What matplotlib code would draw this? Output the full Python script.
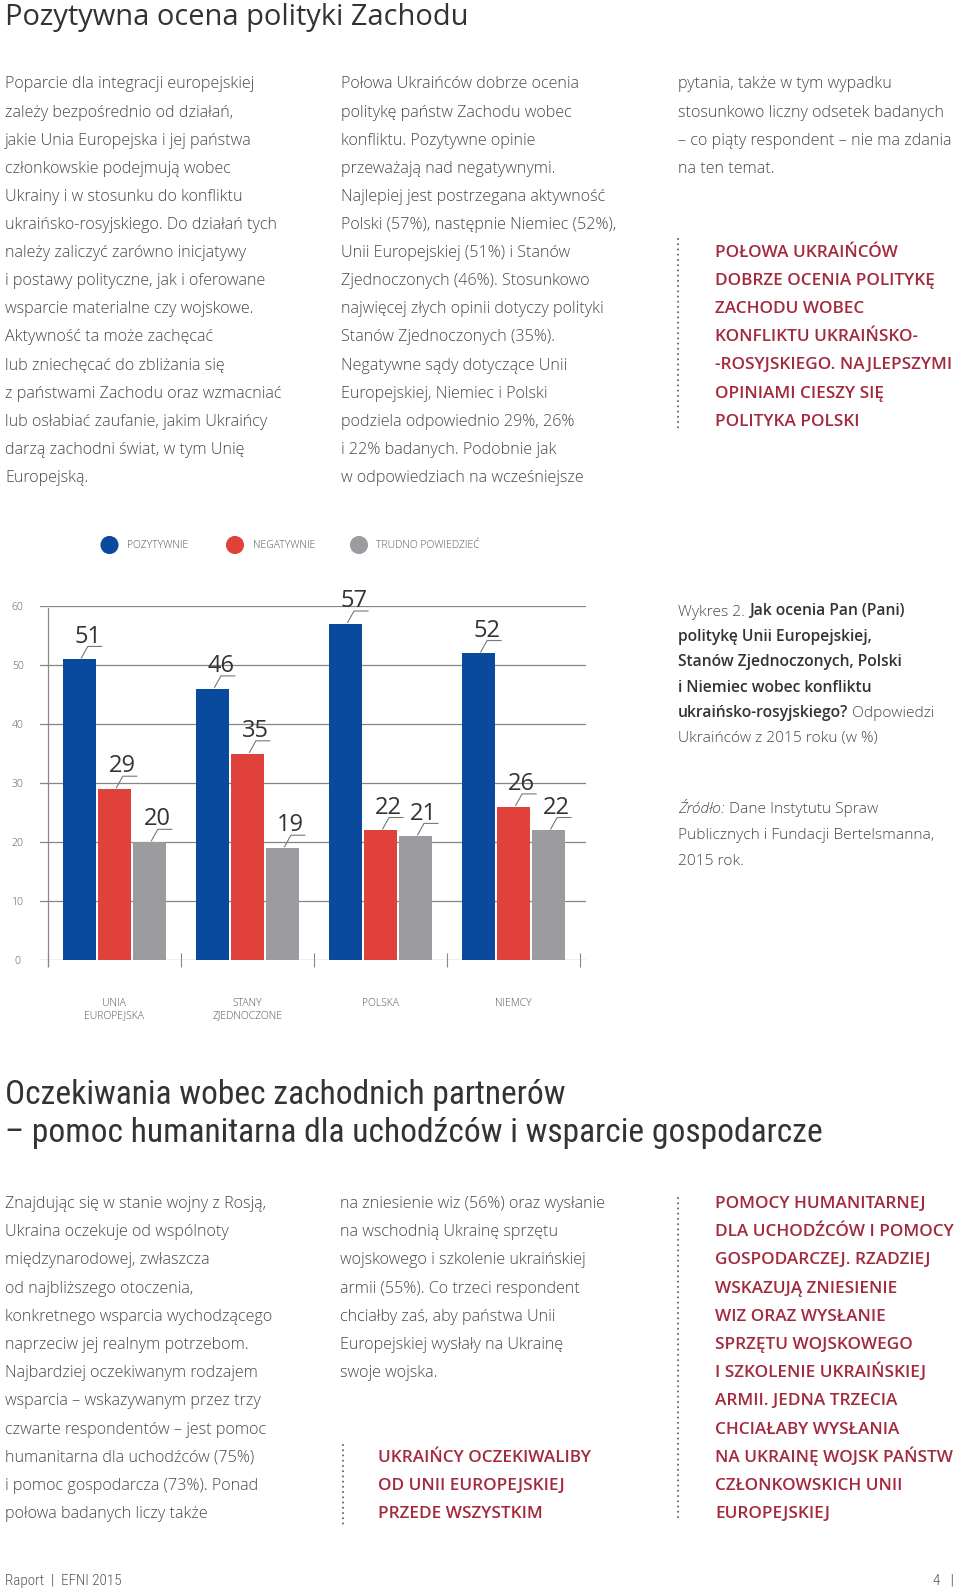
import os
import matplotlib
matplotlib.use('Agg')
import matplotlib.pyplot as plt
from matplotlib import font_manager as fm
from matplotlib.font_manager import FontProperties
import numpy as np

# ---------------- data ----------------
categories = ['UNIA\nEUROPEJSKA', 'STANY\nZJEDNOCZONE', 'POLSKA', 'NIEMCY']
pozytywnie = [51, 46, 57, 52]
negatywnie = [29, 35, 22, 26]
trudno_powiedziec = [20, 19, 21, 22]
series_names = ['POZYTYWNIE', 'NEGATYWNIE', 'TRUDNO POWIEDZIEĆ']
y_ticks = [0, 10, 20, 30, 40, 50, 60]

title1 = 'Pozytywna ocena polityki Zachodu'
title2 = ['Oczekiwania wobec zachodnich partnerów',
          '– pomoc humanitarna dla uchodźców i wsparcie gospodarcze']

col1_top = [
    'Poparcie dla integracji europejskiej',
    'zależy bezpośrednio od działań,',
    'jakie Unia Europejska i jej państwa',
    'członkowskie podejmują wobec',
    'Ukrainy i w stosunku do konfliktu',
    'ukraińsko-rosyjskiego. Do działań tych',
    'należy zaliczyć zarówno inicjatywy',
    'i postawy polityczne, jak i oferowane',
    'wsparcie materialne czy wojskowe.',
    'Aktywność ta może zachęcać',
    'lub zniechęcać do zbliżania się',
    'z państwami Zachodu oraz wzmacniać',
    'lub osłabiać zaufanie, jakim Ukraińcy',
    'darzą zachodni świat, w tym Unię',
    'Europejską.',
]
col2_top = [
    'Połowa Ukraińców dobrze ocenia',
    'politykę państw Zachodu wobec',
    'konfliktu. Pozytywne opinie',
    'przeważają nad negatywnymi.',
    'Najlepiej jest postrzegana aktywność',
    'Polski (57%), następnie Niemiec (52%),',
    'Unii Europejskiej (51%) i Stanów',
    'Zjednoczonych (46%). Stosunkowo',
    'najwięcej złych opinii dotyczy polityki',
    'Stanów Zjednoczonych (35%).',
    'Negatywne sądy dotyczące Unii',
    'Europejskiej, Niemiec i Polski',
    'podziela odpowiednio 29%, 26%',
    'i 22% badanych. Podobnie jak',
    'w odpowiedziach na wcześniejsze',
]
col3_top = [
    'pytania, także w tym wypadku',
    'stosunkowo liczny odsetek badanych',
    '– co piąty respondent – nie ma zdania',
    'na ten temat.',
]
quote1 = [
    'POŁOWA UKRAIŃCÓW',
    'DOBRZE OCENIA POLITYKĘ',
    'ZACHODU WOBEC',
    'KONFLIKTU UKRAIŃSKO-',
    '-ROSYJSKIEGO. NAJLEPSZYMI',
    'OPINIAMI CIESZY SIĘ',
    'POLITYKA POLSKI',
]
caption_lines = [
    [('Wykres 2.', 'reg'), ('Jak ocenia Pan (Pani)', 'bold')],
    [('politykę Unii Europejskiej,', 'bold')],
    [('Stanów Zjednoczonych, Polski', 'bold')],
    [('i Niemiec wobec konfliktu', 'bold')],
    [('ukraińsko-rosyjskiego?', 'bold'), ('Odpowiedzi', 'reg')],
    [('Ukraińców z 2015 roku (w %)', 'reg')],
]
source_lines = [
    [('Źródło:', 'ital'), ('Dane Instytutu Spraw', 'reg')],
    [('Publicznych i Fundacji Bertelsmanna,', 'reg')],
    [('2015 rok.', 'reg')],
]
col1_bottom = [
    'Znajdując się w stanie wojny z Rosją,',
    'Ukraina oczekuje od wspólnoty',
    'międzynarodowej, zwłaszcza',
    'od najbliższego otoczenia,',
    'konkretnego wsparcia wychodzącego',
    'naprzeciw jej realnym potrzebom.',
    'Najbardziej oczekiwanym rodzajem',
    'wsparcia – wskazywanym przez trzy',
    'czwarte respondentów – jest pomoc',
    'humanitarna dla uchodźców (75%)',
    'i pomoc gospodarcza (73%). Ponad',
    'połowa badanych liczy także',
]
col2_bottom = [
    'na zniesienie wiz (56%) oraz wysłanie',
    'na wschodnią Ukrainę sprzętu',
    'wojskowego i szkolenie ukraińskiej',
    'armii (55%). Co trzeci respondent',
    'chciałby zaś, aby państwa Unii',
    'Europejskiej wysłały na Ukrainę',
    'swoje wojska.',
]
quote2 = ['UKRAIŃCY OCZEKIWALIBY', 'OD UNII EUROPEJSKIEJ', 'PRZEDE WSZYSTKIM']
quote3 = [
    'POMOCY HUMANITARNEJ',
    'DLA UCHODŹCÓW I POMOCY',
    'GOSPODARCZEJ. RZADZIEJ',
    'WSKAZUJĄ ZNIESIENIE',
    'WIZ ORAZ WYSŁANIE',
    'SPRZĘTU WOJSKOWEGO',
    'I SZKOLENIE UKRAIŃSKIEJ',
    'ARMII. JEDNA TRZECIA',
    'CHCIAŁABY WYSŁANIA',
    'NA UKRAINĘ WOJSK PAŃSTW',
    'CZŁONKOWSKICH UNII',
    'EUROPEJSKIEJ',
]
footer_left = 'Raport  |  EFNI 2015'
footer_right = '4   |'

# ---------------- fonts ----------------
def find_font(*names):
    for n in names:
        for f in fm.fontManager.ttflist:
            b = os.path.splitext(os.path.basename(f.fname))[0].lower()
            if b == n.lower():
                return FontProperties(fname=f.fname)
    return None

f_light = find_font('OpenSans-Light', 'Roboto-Light', 'Lato-Light') or FontProperties(family='Open Sans', weight='light')
f_reg = find_font('OpenSans-Regular', 'Roboto-Regular', 'Lato-Regular') or FontProperties(family='DejaVu Sans')
f_semi = find_font('OpenSans-SemiBold', 'OpenSans-Semibold', 'Roboto-Medium', 'Lato-Semibold') or FontProperties(family='Open Sans', weight='semibold')
f_ital = find_font('OpenSans-LightItalic', 'Roboto-LightItalic', 'OpenSans-Italic', 'Roboto-Italic') or FontProperties(family='Open Sans', style='italic')
f_cond = find_font('RobotoCondensed-Regular', 'LiberationSansNarrow-Regular', 'DejaVuSansCondensed') or f_reg
f_cond_light = find_font('RobotoCondensed-Light', 'RobotoCondensed-Regular', 'LiberationSansNarrow-Regular', 'DejaVuSansCondensed') or f_light

def sized(base, size):
    p = base.copy()
    p.set_size(size)
    return p

# ---------------- figure ----------------
W, H = 960, 1589
fig = plt.figure(figsize=(W / 100, H / 100), dpi=100)
ax0 = fig.add_axes([0, 0, 1, 1])
ax0.set_xlim(0, W)
ax0.set_ylim(H, 0)
ax0.axis('off')
renderer = fig.canvas.get_renderer()

def measure(text, prop):
    t = ax0.text(0, 0, text, fontproperties=prop)
    w = t.get_window_extent(renderer).width
    t.remove()
    return w

def fit(base, text, target):
    return 10.0 * target / measure(text, sized(base, 10.0))

s_title = fit(f_reg, title1, 465)
s_body = fit(f_light, col1_top[0], 250)
s_quote = fit(f_semi, quote1[4], 236)
s_cap_bold = fit(f_semi, caption_lines[1][0][0], 195)
s_cap_reg = fit(f_light, source_lines[1][0][0], 255)
s_title2 = fit(f_cond, title2[1], 812)
s_foot = fit(f_cond_light, footer_left, 117)
s_leg = fit(f_light, series_names[2], 104)

TXT = '#484848'
DARK = '#333333'
QUOTE = '#a3293d'

def draw_lines(lines, x, y0, dy, prop, color):
    for i, s in enumerate(lines):
        ax0.text(x, y0 + i * dy, s, fontproperties=prop, color=color,
                 va='baseline', ha='left')

def dotted(x, y0, y1):
    ax0.plot([x, x], [y0, y1], color='#666666', lw=1.5,
             linestyle=(0, (0.01, 2.5)), dash_capstyle='round')

cap_props = {'reg': (sized(f_light, s_cap_reg), TXT),
             'bold': (sized(f_semi, s_cap_bold), DARK),
             'ital': (sized(f_ital, s_cap_reg), TXT)}

def rich(x, y, segs):
    gap = s_cap_reg * 100 / 72 * 0.26
    for s, kind in segs:
        prop, color = cap_props[kind]
        t = ax0.text(x, y, s, fontproperties=prop, color=color, va='baseline')
        x += t.get_window_extent(renderer).width + gap

# title
ax0.text(5, 25, title1, fontproperties=sized(f_reg, s_title), color=DARK, va='baseline')

# top columns
body = sized(f_light, s_body)
draw_lines(col1_top, 5, 88.5, 28.1, body, TXT)
draw_lines(col2_top, 341, 88.5, 28.1, body, TXT)
draw_lines(col3_top, 678, 88.5, 28.1, body, TXT)
qprop = sized(f_semi, s_quote)
draw_lines(quote1, 715, 88.5 + 6 * 28.1, 28.1, qprop, QUOTE)
dotted(678, 239, 430)

# caption
for i, segs in enumerate(caption_lines):
    rich(678, 615.5 + i * 25.4, segs)
for i, segs in enumerate(source_lines):
    rich(678, 813 + i * 26, segs)

# legend
colors = ['#0a4a9c', '#e0413b', '#9b9ba0']
leg_x = [109.5, 235, 359]
lprop = sized(f_light, s_leg)
for cx, c, name in zip(leg_x, colors, series_names):
    ax0.scatter([cx], [545], s=170, color=c, edgecolors='none')
    ax0.text(cx + 17.5, 545, name, fontproperties=lprop, color='#555555',
             va='center', ha='left')

# section 2 title
t2prop = sized(f_cond, s_title2)
draw_lines(title2, 5, 1104, 38, t2prop, DARK)

# bottom columns
draw_lines(col1_bottom, 5, 1208, 28.2, body, TXT)
draw_lines(col2_bottom, 340, 1208, 28.2, body, TXT)
draw_lines(quote2, 378, 1208 + 9 * 28.2, 28.2, qprop, QUOTE)
dotted(343, 1445, 1526)
draw_lines(quote3, 715, 1208, 28.2, qprop, QUOTE)
dotted(678, 1198, 1521)

# footer
fprop = sized(f_cond_light, s_foot)
ax0.text(5, 1585, footer_left, fontproperties=fprop, color='#555555', va='baseline')
ax0.text(954, 1585, footer_right, fontproperties=fprop, color='#555555', va='baseline', ha='right')

# ---------------- chart ----------------
def px_axes(l, t, r, b):
    return fig.add_axes([l / W, 1 - b / H, (r - l) / W, (b - t) / H])

ax = px_axes(40, 606, 586, 960)
ax.patch.set_alpha(0)
ax.set_ylim(0, 60)
ax.set_xlim(-0.557, 3.545)
for sp in ax.spines.values():
    sp.set_visible(False)

x = np.arange(len(categories))
off, bw = 0.263, 0.248
series = [pozytywnie, negatywnie, trudno_powiedziec]
vprop = sized(f_reg, 17)
for k, (vals, c) in enumerate(zip(series, colors)):
    xs = x + (k - 1) * off
    ax.bar(xs, vals, width=bw, color=c, zorder=3)
    for xi, v in zip(xs, vals):
        ax.plot([xi + 0.017, xi + 0.065, xi + 0.17], [v + 0.2, v + 2.15, v + 2.15],
                color='#777777', lw=0.8, zorder=4, clip_on=False)
        ax.text(xi + 0.063, v + 2.8, str(v), ha='center', va='baseline',
                fontproperties=vprop, color=DARK, clip_on=False, zorder=5)

ax.set_yticks(y_ticks)
ax.set_yticklabels([str(t) for t in y_ticks], fontproperties=sized(f_light, 7.5), color='#555555')
for lab in ax.get_yticklabels():
    lab.set_ha('center')
ax.tick_params(axis='y', length=0, pad=16)
ax.grid(axis='y', color='#858585', lw=0.9, zorder=0)

ax.set_xticks(x)
ax.set_xticklabels(categories, fontproperties=sized(f_light, 7.5), color='#555555', linespacing=1.25)
ax.tick_params(axis='x', which='major', length=0, pad=27)
ax.set_xticks(np.arange(len(categories) + 1) - 0.5, minor=True)
ax.tick_params(axis='x', which='minor', direction='inout', length=10, width=0.8, color='#888888')
ax.axvline(-0.5, ymin=-0.016, ymax=0.994, color='#888888', lw=0.9, clip_on=False)

fig.savefig('out.png', dpi=100)
